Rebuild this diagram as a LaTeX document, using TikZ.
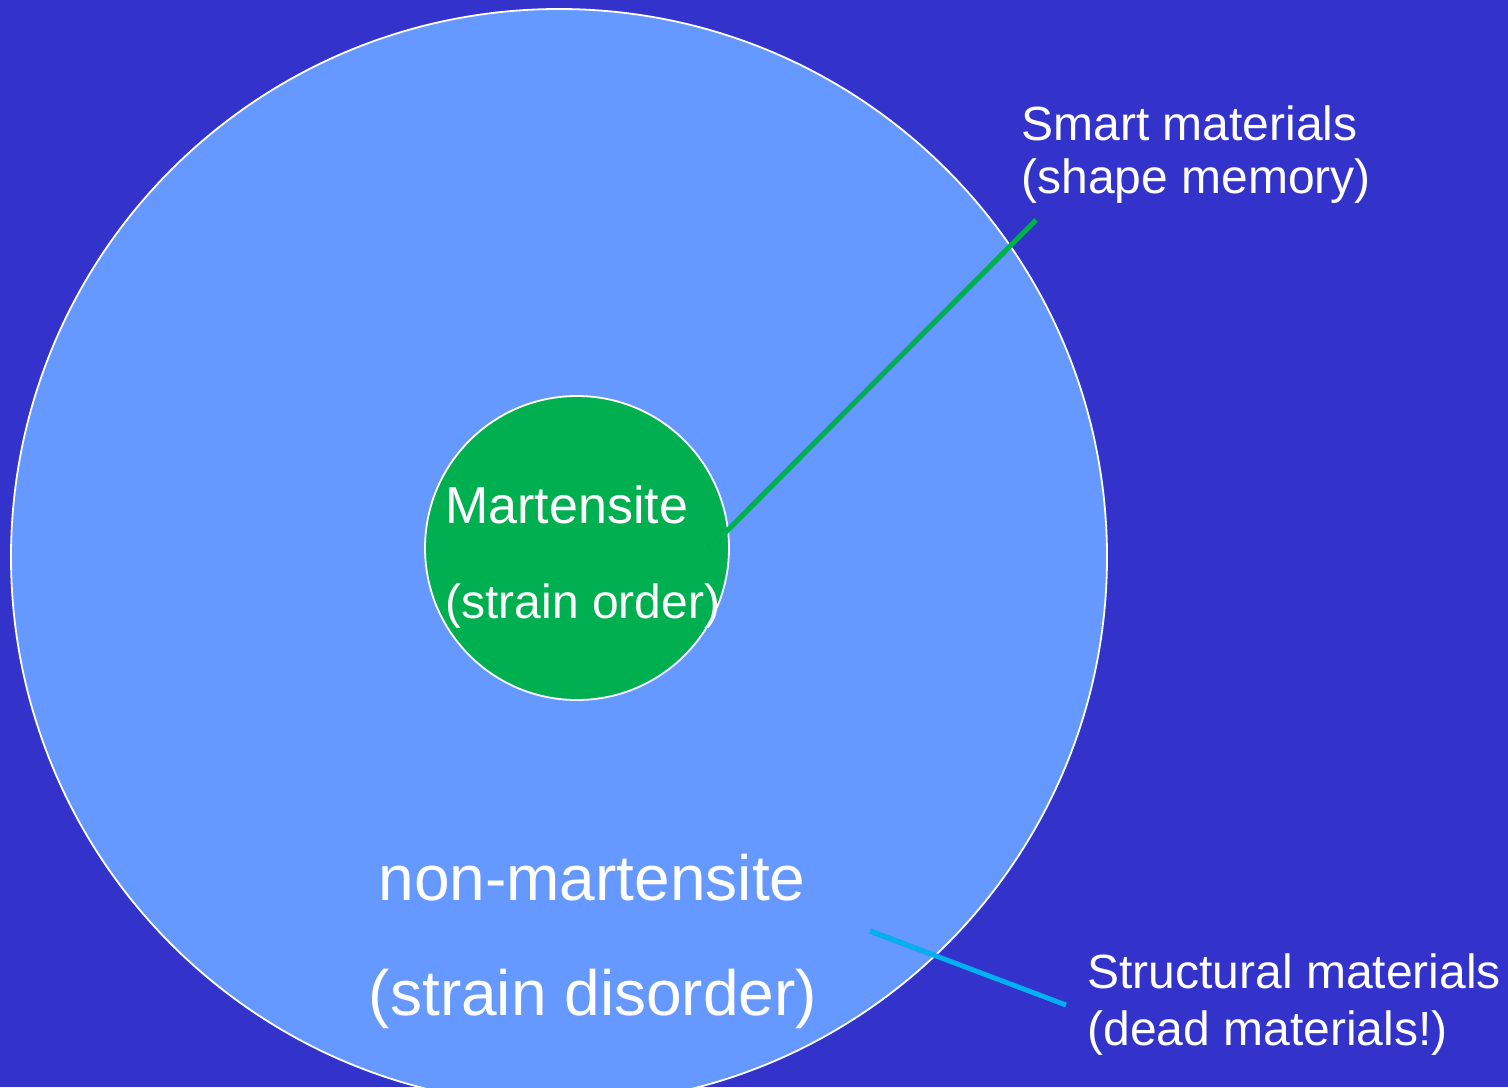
\documentclass[tikz,border=0pt]{standalone}
\usepackage{fontspec}
\setmainfont{Liberation Sans}
\definecolor{bgblue}{HTML}{3333CC}
\definecolor{lightblue}{HTML}{6699FF}
\definecolor{martgreen}{HTML}{00B050}
\definecolor{linecyan}{HTML}{00B0F0}
\begin{document}
\begin{tikzpicture}[x=0.5pt,y=-0.5pt,
  region/.style={circle, draw=white, line width=0.9pt, inner sep=0pt},
  lbl/.style={text=white, inner sep=0pt, anchor=base west, font=\fontsize{24}{28}\selectfont},
  biglbl/.style={text=white, inner sep=0pt, anchor=base, font=\fontsize{32}{38}\selectfont},
  leader/.style={line width=2.5pt},
  leadershadow/.style={line width=2.5pt, black, opacity=0.2, shift={(1.5,1.5)}}]
\useasboundingbox (0,0) rectangle (1508,1087);
\clip (0,0) rectangle (1508,1087);
\fill[bgblue] (0,0) rectangle (1508,1087);
\node[region, fill=lightblue, minimum size=548pt] (outer) at (559,557) {};
\node[region, fill=martgreen, minimum size=152pt] (inner) at (577,548) {};
% texts
\node[lbl, font=\fontsize{26}{30}\selectfont] (mart) at (445,523) {Martensite};
\node[lbl] (martsub) at (445,618) {(strain order)};
\node[biglbl] (nonmart) at (592,900) {non-martensite};
\node[biglbl] (nonmartsub) at (593,1015) {(strain disorder)};
\node[lbl] (smart) at (1021,140) {Smart materials};
\node[lbl] (smartsub) at (1021,193) {(shape memory)};
\node[lbl] (struct) at (1087,988) {Structural materials};
\node[lbl] (structsub) at (1087,1045) {(dead materials!)};
% leader lines
\coordinate (smartA) at (709,549);
\coordinate (smartB) at (1036,220);
\coordinate (structA) at (870,931);
\coordinate (structB) at (1066,1005);
\draw[leadershadow] (smartA) -- (smartB);
\draw[leader, martgreen] (smartA) -- (smartB);
\draw[leadershadow] (structA) -- (structB);
\draw[leader, linecyan] (structA) -- (structB);
\end{tikzpicture}
\end{document}
